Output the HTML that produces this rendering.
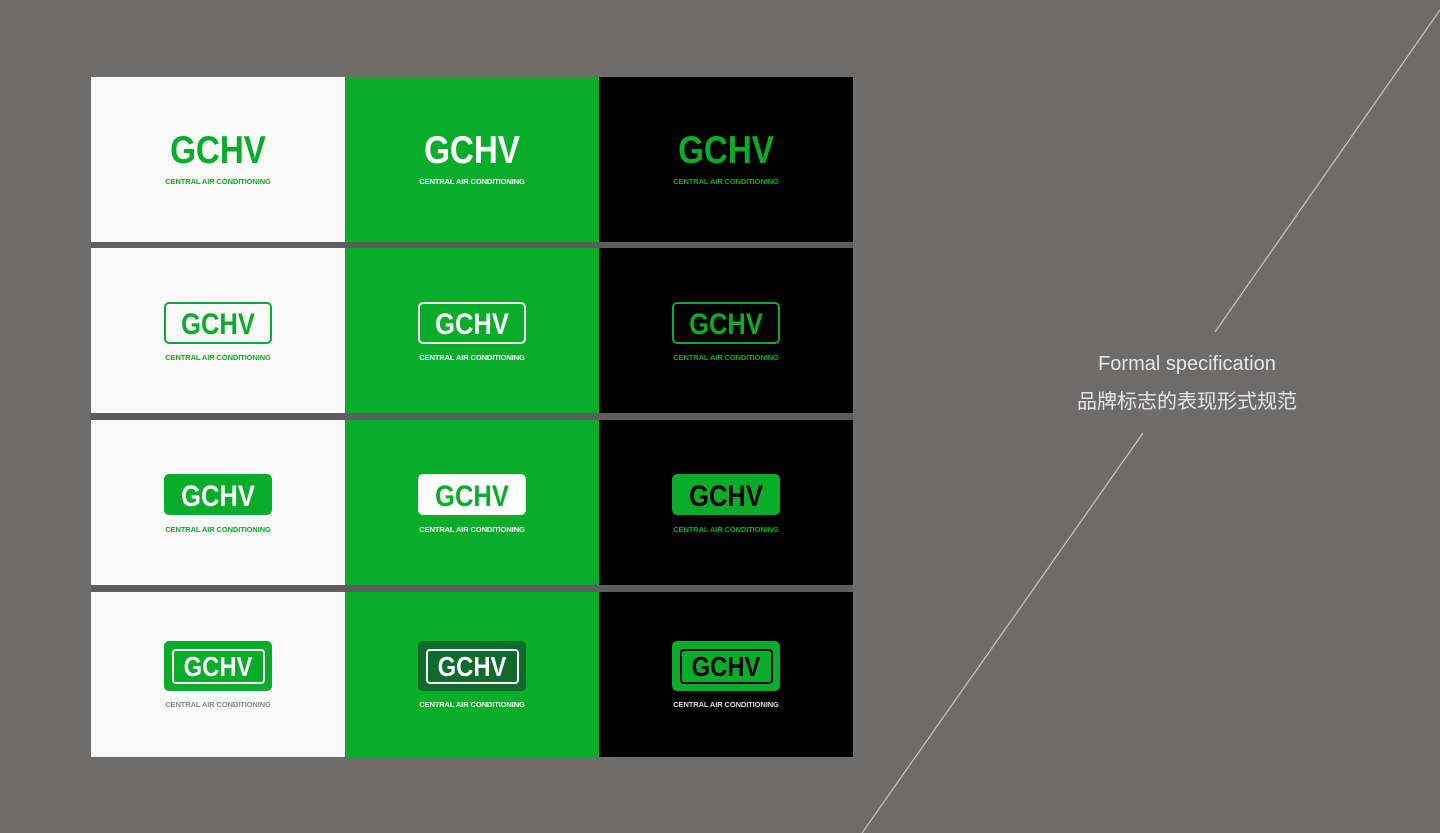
<!DOCTYPE html>
<html><head><meta charset="utf-8"><style>
*{margin:0;padding:0;box-sizing:border-box}
body{width:1440px;height:833px;background:#6e6b6b;position:relative;overflow:hidden;font-family:"Liberation Sans",sans-serif}
.cell{position:absolute;width:254px;height:165px}
.w{background:#f9f9f9}.g{background:#0aad2a}.k{background:#000}
.t{position:absolute;left:50%;font-weight:bold;white-space:nowrap;line-height:1;transform:translateX(-50%) scaleX(.85)}
.s{position:absolute;left:0;width:100%;text-align:center;font-weight:bold;font-size:7.5px;letter-spacing:-.1px}
.box{position:absolute;left:73px;width:108px;border-radius:5px}
.gap{position:absolute;left:91px;width:762px;height:6px;background:#5e5d5d}
.r1{top:54px;font-size:39px}
.r2{top:62px;font-size:30px}
.r4{top:61px;font-size:28px}
</style></head><body>
<div class="gap" style="top:242px"></div>
<div class="gap" style="top:413px;height:7px"></div>
<div class="gap" style="top:585px;height:7px"></div>

<!-- Row 1 -->
<div class="cell w" style="left:91px;top:77px"><div class="t r1" style="color:#0aad2a">GCHV</div><div class="s" style="top:100px;color:#0aad2a">CENTRAL AIR CONDITIONING</div></div>
<div class="cell g" style="left:345px;top:77px"><div class="t r1" style="color:#fff">GCHV</div><div class="s" style="top:100px;color:#fff">CENTRAL AIR CONDITIONING</div></div>
<div class="cell k" style="left:599px;top:77px"><div class="t r1" style="color:#0aad2a">GCHV</div><div class="s" style="top:100px;color:#0aad2a">CENTRAL AIR CONDITIONING</div></div>

<!-- Row 2 -->
<div class="cell w" style="left:91px;top:248px"><div class="box" style="top:54px;height:42px;border:2px solid #0aad2a"></div><div class="t r2" style="color:#0aad2a">GCHV</div><div class="s" style="top:105px;color:#0aad2a">CENTRAL AIR CONDITIONING</div></div>
<div class="cell g" style="left:345px;top:248px"><div class="box" style="top:54px;height:42px;border:2px solid #fff"></div><div class="t r2" style="color:#fff">GCHV</div><div class="s" style="top:105px;color:#fff">CENTRAL AIR CONDITIONING</div></div>
<div class="cell k" style="left:599px;top:248px"><div class="box" style="top:54px;height:42px;border:2px solid #0aad2a"></div><div class="t r2" style="color:#0aad2a">GCHV</div><div class="s" style="top:105px;color:#0aad2a">CENTRAL AIR CONDITIONING</div></div>

<!-- Row 3 -->
<div class="cell w" style="left:91px;top:420px"><div class="box" style="top:54px;height:41px;background:#0aad2a"></div><div class="t r2" style="color:#fff">GCHV</div><div class="s" style="top:105px;color:#0aad2a">CENTRAL AIR CONDITIONING</div></div>
<div class="cell g" style="left:345px;top:420px"><div class="box" style="top:54px;height:41px;background:#fff"></div><div class="t r2" style="color:#0aad2a">GCHV</div><div class="s" style="top:105px;color:#fff">CENTRAL AIR CONDITIONING</div></div>
<div class="cell k" style="left:599px;top:420px"><div class="box" style="top:54px;height:41px;background:#0aad2a"></div><div class="t r2" style="color:#000">GCHV</div><div class="s" style="top:105px;color:#0aad2a">CENTRAL AIR CONDITIONING</div></div>

<!-- Row 4 -->
<div class="cell w" style="left:91px;top:592px"><div class="box" style="top:49px;height:50px;background:#0aad2a"></div><div class="box" style="left:81px;width:93px;top:57px;height:35px;border:2px solid #fff;border-radius:4px"></div><div class="t r4" style="color:#fff">GCHV</div><div class="s" style="top:108px;color:#8a8a8a">CENTRAL AIR CONDITIONING</div></div>
<div class="cell g" style="left:345px;top:592px"><div class="box" style="top:49px;height:50px;background:#0f6b2c"></div><div class="box" style="left:81px;width:93px;top:57px;height:35px;border:2px solid #fff;border-radius:4px"></div><div class="t r4" style="color:#fff">GCHV</div><div class="s" style="top:108px;color:#fff">CENTRAL AIR CONDITIONING</div></div>
<div class="cell k" style="left:599px;top:592px"><div class="box" style="top:49px;height:50px;background:#0aad2a"></div><div class="box" style="left:81px;width:93px;top:57px;height:35px;border:2px solid #000;border-radius:4px"></div><div class="t r4" style="color:#000">GCHV</div><div class="s" style="top:108px;color:#ddd">CENTRAL AIR CONDITIONING</div></div>

<svg style="position:absolute;left:0;top:0" width="1440" height="833">
<line x1="1440" y1="10" x2="1215" y2="332" stroke="#c4c4c4" stroke-width="1.2"/>
<line x1="1143" y1="433" x2="862" y2="833" stroke="#c4c4c4" stroke-width="1.2"/>
</svg>
<div style="position:absolute;left:1037px;width:300px;top:353px;text-align:center;color:#e6e6e6;font-size:20px">Formal specification</div>
<div style="position:absolute;left:1037px;width:300px;top:385px;text-align:center;color:#e6e6e6;font-size:20px;font-family:'Liberation Sans','Noto Sans CJK SC',sans-serif">品牌标志的表现形式规范</div>
</body></html>
